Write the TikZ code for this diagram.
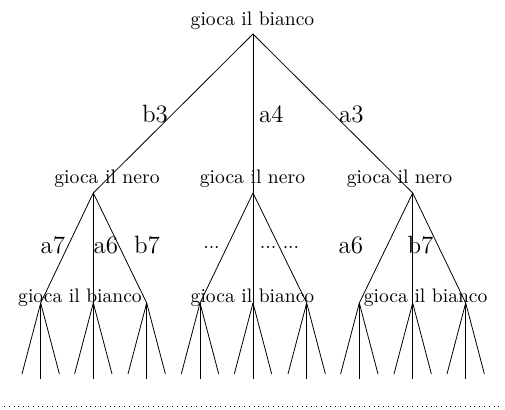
\documentclass[tikz,border=0pt]{standalone}
\begin{document}
\begin{tikzpicture}[x=0.5pt,y=-0.5pt,
  edge/.style={line width=0.4pt},
  txt/.style={inner sep=0pt,anchor=base,font=\fontsize{9.8}{12}\selectfont},
  lab/.style={inner sep=0pt,anchor=base,font=\fontsize{12.5}{15}\selectfont},
  dts/.style={inner sep=0pt,anchor=base,font=\fontsize{9.8}{12}\selectfont}]
\useasboundingbox (0,0) rectangle (505,410);
% apex points
\coordinate (R) at (253,34);
\coordinate (A) at (93.3,193);
\coordinate (B) at (253,193);
\coordinate (C) at (412.7,193);
\foreach \i/\x in {1/40.7,2/93.3,3/146.7,4/200,5/253,6/306.7,7/359.3,8/412.7,9/465.7}{
  \coordinate (L\i) at (\x,303);
  \coordinate (L\i a) at (\x-18.7,374);
  \coordinate (L\i b) at (\x,379);
  \coordinate (L\i c) at (\x+18.7,374);
}
% texts
\node[txt] (t0) at (252.5,25.5) {gioca il bianco};
\node[txt] (t1) at (107,184) {gioca il nero};
\node[txt] (t2) at (252.5,184) {gioca il nero};
\node[txt] (t3) at (399.5,184) {gioca il nero};
\node[txt] (t4) at (80,302.5) {gioca il bianco};
\node[txt] (t5) at (252.5,302.5) {gioca il bianco};
\node[txt] (t6) at (425.7,302.5) {gioca il bianco};
% edges
\draw[edge] (R) -- (A);
\draw[edge] (R) -- (B);
\draw[edge] (R) -- (C);
\draw[edge] (A) -- (L1); \draw[edge] (A) -- (L2); \draw[edge] (A) -- (L3);
\draw[edge] (B) -- (L4); \draw[edge] (B) -- (L5); \draw[edge] (B) -- (L6);
\draw[edge] (C) -- (L7); \draw[edge] (C) -- (L8); \draw[edge] (C) -- (L9);
\foreach \i in {1,...,9}{
  \draw[edge] (L\i) -- (L\i a);
  \draw[edge] (L\i) -- (L\i b);
  \draw[edge] (L\i) -- (L\i c);
}
% edge labels
\node[lab] (b3) at (155,123) {b3};
\node[lab] (a4) at (271.5,123) {a4};
\node[lab] (a3) at (351.5,123) {a3};
\node[lab] (a7) at (53,254) {a7};
\node[lab] (a6) at (106,254) {a6};
\node[lab] (b7) at (147,254) {b7};
\node[dts] (d1) at (211.5,248.5) {...};
\node[dts] (d2) at (279.5,248.5) {...\ ...};
\node[lab] (a6r) at (351,254) {a6};
\node[lab] (b7r) at (420.5,254) {b7};
% dotted rule
\coordinate (p) at (4,406);
\coordinate (q) at (501,406);
\draw[edge,dotted] (p) -- (q);
\end{tikzpicture}
\end{document}
